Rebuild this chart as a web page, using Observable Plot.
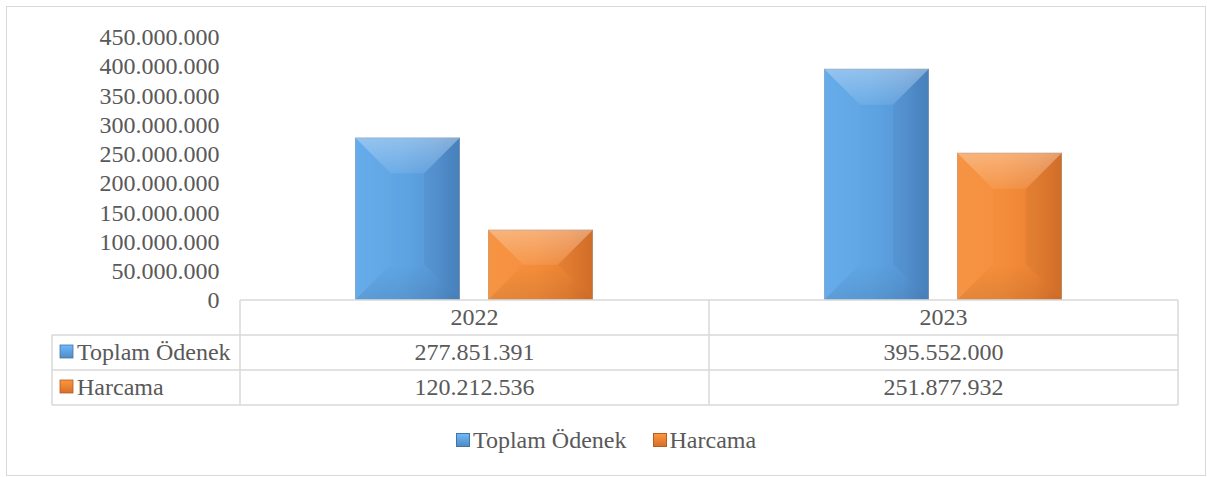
<!DOCTYPE html>
<html>
<head>
<meta charset="utf-8">
<script src="https://cdn.jsdelivr.net/npm/d3@7"></script>
<script src="https://cdn.jsdelivr.net/npm/@observablehq/plot@0.6"></script>
<style>
  html, body { margin: 0; padding: 0; background: #ffffff; }
  body { width: 1207px; height: 477px; position: relative; overflow: hidden;
         font-family: "Liberation Serif", "Times New Roman", serif; color: #595959; }
  #frame { position: absolute; left: 6px; top: 6px; width: 1200px; height: 470px;
           box-sizing: border-box; border: 1.5px solid #d9d9d9; }
  #chart { position: absolute; left: 0; top: 0; }
  #table { position: absolute; left: 0; top: 0; }
  #legend { position: absolute; left: 6px; width: 1200px; top: 428px; height: 24px;
            display: flex; justify-content: center; align-items: center;
            font-size: 24px; line-height: 24px; color: #595959; }
  .item { display: flex; align-items: center; margin: 0 13px; }
  .key { display: inline-block; width: 14px; height: 14px; margin-right: 3px; box-sizing: border-box; }
</style>
</head>
<body>
<div id="frame"></div>
<div id="chart"></div>
<svg id="table" width="1207" height="477"></svg>
<div id="legend"></div>
<script>
// ---- data ----
const years = ["2022", "2023"];
const seriesNames = ["Toplam Ödenek", "Harcama"];
const toplamOdenek = [277851391, 395552000];
const harcama = [120212536, 251877932];
const yTicks = [0, 50000000, 100000000, 150000000, 200000000, 250000000, 300000000, 350000000, 400000000, 450000000];
const seriesColors = ["#5b9bd5", "#ed7d31"];

const seriesValues = [toplamOdenek, harcama];
const data = years.flatMap((yr, i) => seriesNames.map((s, j) => ({year: yr, series: s, value: seriesValues[j][i]})));

const tr = d3.formatLocale({decimal: ",", thousands: ".", grouping: [3], currency: ["", "₺"]});
const fmt = tr.format(",d");

const textColor = "#595959";
const fontFamily = "'Liberation Serif','Times New Roman',serif";

const plot = Plot.plot({
  width: 1207,
  height: 301,
  marginTop: 37,
  marginBottom: 1,
  marginLeft: 240,
  marginRight: 29,
  style: {fontFamily, fontSize: "24px", color: textColor, background: "transparent", overflow: "visible"},
  fx: {domain: years, padding: 0, axis: null, label: null},
  x: {domain: seriesNames, paddingInner: 0.21, paddingOuter: 0.857, axis: null, label: null},
  y: {domain: [0, 450000000], ticks: yTicks, tickFormat: fmt, tickSize: 0, tickPadding: 21, label: null},
  color: {domain: seriesNames, range: seriesColors},
  marks: [
    Plot.barY(data, {fx: "year", x: "series", y: "value", fill: "series", inset: 0})
  ]
});
document.getElementById("chart").appendChild(plot);

// ---- bevel styling of the bars (reads Plot-drawn rects) ----
const svg = d3.select(plot);
const defs = svg.insert("defs", ":first-child");
const shades = {
  [seriesColors[0]]: {id: "gBlue", stops: ["#64aaea", "#5ea4e3", "#5798d8", "#4b86c2"]},
  [seriesColors[1]]: {id: "gOrange", stops: ["#f7923f", "#f48d3a", "#eb8233", "#d9722a"]}
};
Object.values(shades).forEach(s => {
  const g = defs.append("linearGradient").attr("id", s.id).attr("x1", 0).attr("x2", 1).attr("y1", 0).attr("y2", 0);
  [0, 0.45, 0.75, 1].forEach((o, k) => g.append("stop").attr("offset", o).attr("stop-color", s.stops[k]));
});
const gt = defs.append("linearGradient").attr("id", "gTop").attr("x1", 0).attr("x2", 0).attr("y1", 0).attr("y2", 1);
gt.append("stop").attr("offset", 0).attr("stop-color", "#fff").attr("stop-opacity", 0.32);
gt.append("stop").attr("offset", 1).attr("stop-color", "#fff").attr("stop-opacity", 0.08);
const gb = defs.append("linearGradient").attr("id", "gBot").attr("x1", 0).attr("x2", 0).attr("y1", 0).attr("y2", 1);
gb.append("stop").attr("offset", 0).attr("stop-color", "#000").attr("stop-opacity", 0.0);
gb.append("stop").attr("offset", 1).attr("stop-color", "#000").attr("stop-opacity", 0.08);

svg.selectAll("g[aria-label='bar'] rect").each(function() {
  const r = d3.select(this);
  const fill = r.attr("fill");
  const s = shades[fill];
  if (s) r.attr("fill", `url(#${s.id})`);
  const x = +r.attr("x"), y = +r.attr("y"), w = +r.attr("width"), h = +r.attr("height");
  const b = Math.min(36, w / 2, h / 2);
  const parent = d3.select(this.parentNode);
  const tf = r.attr("transform");
  const polys = [
    {pts: [[x, y], [x + w, y], [x + w - b, y + b], [x + b, y + b]], fill: "url(#gTop)", op: 1},
    {pts: [[x, y + h], [x + w, y + h], [x + w - b, y + h - b], [x + b, y + h - b]], fill: "url(#gBot)", op: 1},
    {pts: [[x, y], [x + b, y + b], [x + b, y + h - b], [x, y + h]], fill: "#fff", op: 0.025},
    {pts: [[x + w, y], [x + w - b, y + b], [x + w - b, y + h - b], [x + w, y + h]], fill: "#000", op: 0.045}
  ];
  polys.forEach(p => {
    const el = parent.append("polygon")
      .attr("points", p.pts.map(d => d.join(",")).join(" "))
      .attr("fill", p.fill).attr("fill-opacity", p.op);
    if (tf) el.attr("transform", tf);
  });
  const outline = parent.append("rect").attr("x", x + 0.5).attr("y", y + 0.5).attr("width", w - 1).attr("height", h - 1)
    .attr("fill", "none").attr("stroke", "#a8a8a8").attr("stroke-opacity", 0.45);
  if (tf) outline.attr("transform", tf);
});

// ---- data table below the plot ----
const fxScale = plot.scale("fx");
const colLeft = fxScale.range[0], colRight = fxScale.range[1];
const colW = (colRight - colLeft) / years.length;
const tableLeft = 52, top0 = 300, rowH = 35;
const t = d3.select("#table");
const lineColor = "#d9d9d9";
const L = (x1, y1, x2, y2) => t.append("line").attr("x1", x1).attr("y1", y1).attr("x2", x2).attr("y2", y2)
  .attr("stroke", lineColor).attr("stroke-width", 1.5);
L(colLeft, top0, colRight, top0);
for (let r = 1; r <= seriesNames.length + 1; r++) L(tableLeft, top0 + r * rowH, colRight, top0 + r * rowH);
L(tableLeft, top0 + rowH, tableLeft, top0 + rowH * (seriesNames.length + 1));
for (let c = 0; c <= years.length; c++) L(colLeft + c * colW, top0, colLeft + c * colW, top0 + rowH * (seriesNames.length + 1));

const T = (x, y, str, anchor) => t.append("text").attr("x", x).attr("y", y).attr("dy", "0.32em")
  .attr("text-anchor", anchor).attr("font-family", fontFamily).attr("font-size", 24).attr("fill", textColor).text(str);
years.forEach((yr, i) => T(colLeft + (i + 0.5) * colW, top0 + rowH / 2, yr, "middle"));
const tdefs = t.append("defs");
seriesNames.forEach((s, j) => {
  const cy = top0 + rowH * (j + 1) + rowH / 2;
  const gid = "key" + j;
  const g = tdefs.append("linearGradient").attr("id", gid).attr("x1", 0).attr("x2", 0).attr("y1", 0).attr("y2", 1);
  g.append("stop").attr("offset", 0).attr("stop-color", d3.color(seriesColors[j]).brighter(0.5));
  g.append("stop").attr("offset", 1).attr("stop-color", d3.color(seriesColors[j]).darker(0.3));
  t.append("rect").attr("x", tableLeft + 8).attr("y", cy - 7.5).attr("width", 13).attr("height", 13)
    .attr("fill", `url(#${gid})`).attr("stroke", d3.color(seriesColors[j]).darker(0.8)).attr("stroke-width", 0.8);
  T(tableLeft + 25, cy, s, "start");
  years.forEach((yr, i) => T(colLeft + (i + 0.5) * colW, cy, fmt(seriesValues[j][i]), "middle"));
});

// ---- legend ----
const legend = d3.select("#legend");
seriesNames.forEach((s, j) => {
  const it = legend.append("span").attr("class", "item");
  it.append("span").attr("class", "key")
    .style("background", `linear-gradient(${d3.color(seriesColors[j]).brighter(0.5)}, ${d3.color(seriesColors[j]).darker(0.3)})`)
    .style("border", `0.8px solid ${d3.color(seriesColors[j]).darker(0.8)}`);
  it.append("span").text(s);
});
</script>
</body>
</html>
